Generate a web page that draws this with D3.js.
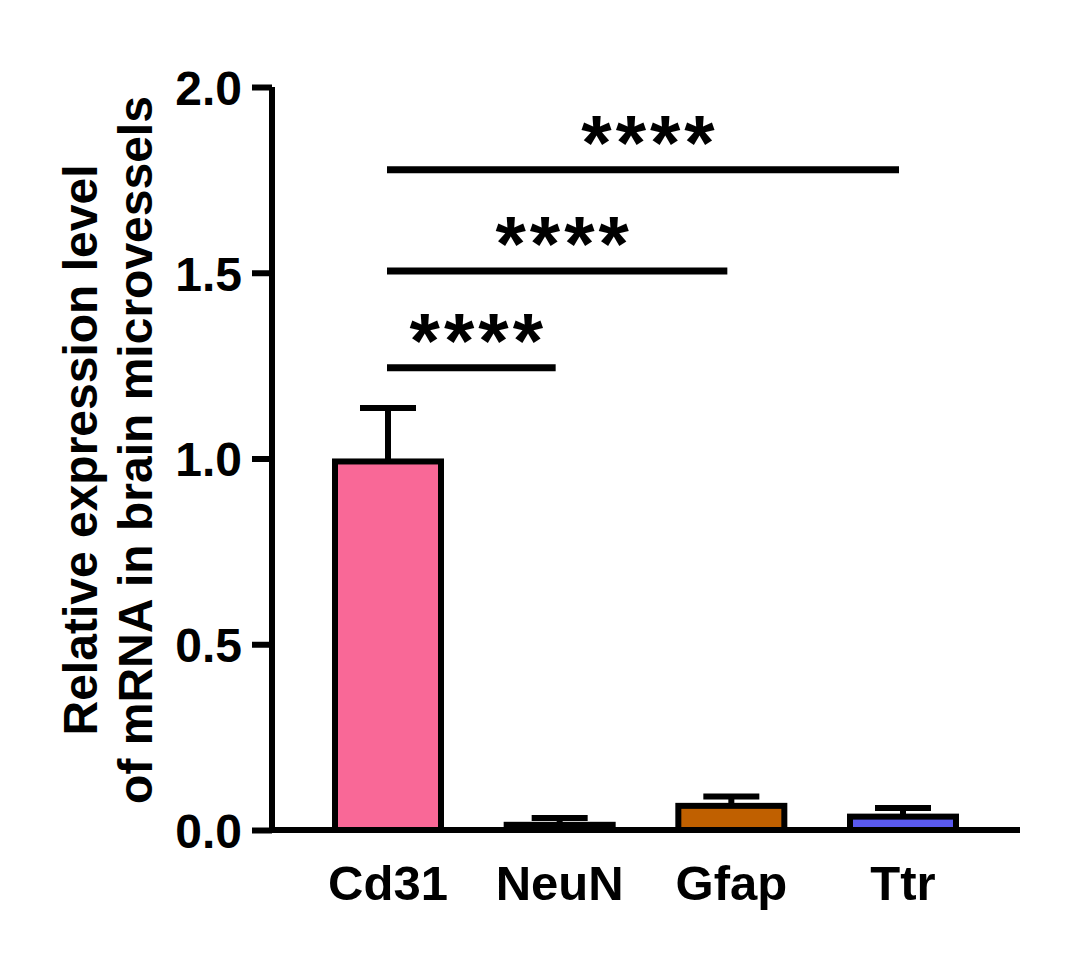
<!DOCTYPE html>
<html>
<head>
    <title>Relative expression level</title>
    <script src="https://d3js.org/d3.v7.min.js"></script>
    <style>
        body {
            margin: 0;
            background: white;
            font-family: "Liberation Sans", Arial, sans-serif;
        }
        text {
            font-weight: bold;
            fill: black;
        }
    </style>
</head>
<body>
    <div id="chart"></div>
    <script>
        // Data
        const categories = ["Cd31", "NeuN", "Gfap", "Ttr"];
        const means = [0.992, 0.014, 0.065, 0.036];
        const errors = [0.144, 0.018, 0.025, 0.023];
        const barColors = ["#F96897", "#3CB371", "#C06000", "#5A5AF0"];
        const yTicks = [0, 0.5, 1.0, 1.5, 2.0];

        // significance brackets: from group index to group index, at height
        const sigFrom = [0, 0, 0];
        const sigTo = [1, 2, 3];
        const sigLevel = [1.244, 1.505, 1.777];
        const sigLabel = ["****", "****", "****"];

        const width = 1069, height = 960;
        const svg = d3.select("#chart")
            .append("svg")
            .attr("width", width)
            .attr("height", height);

        const y = d3.scaleLinear().domain([0, 2]).range([830, 87]);
        const x = d3.scalePoint().domain(categories).range([388, 903]);
        const barW = 106;

        // bars
        svg.append("g")
            .selectAll("rect")
            .data(categories)
            .enter()
            .append("rect")
            .attr("x", d => x(d) - barW / 2)
            .attr("y", (d, i) => y(means[i]))
            .attr("width", barW)
            .attr("height", (d, i) => y(0) - y(means[i]))
            .attr("fill", (d, i) => barColors[i])
            .attr("stroke", "black")
            .attr("stroke-width", 6);

        // error bars (upper only)
        const err = svg.append("g").attr("stroke", "black").attr("stroke-width", 6);
        categories.forEach((c, i) => {
            err.append("line")
                .attr("x1", x(c)).attr("x2", x(c))
                .attr("y1", y(means[i])).attr("y2", y(means[i] + errors[i]));
            err.append("line")
                .attr("x1", x(c) - 28).attr("x2", x(c) + 28)
                .attr("y1", y(means[i] + errors[i])).attr("y2", y(means[i] + errors[i]));
        });

        // y axis
        const yAxis = svg.append("g")
            .attr("transform", "translate(272,0)")
            .call(d3.axisLeft(y).tickValues(yTicks).tickFormat(d3.format(".1f")).tickSize(20).tickSizeOuter(0).tickPadding(10));
        yAxis.select(".domain").attr("stroke-width", 6).attr("d", `M0,${y(2)}V${y(0) + 3}`);
        yAxis.selectAll(".tick line").attr("stroke-width", 6);
        yAxis.selectAll(".tick text")
            .style("font-size", "48px")
            .style("font-family", "'Liberation Sans', Arial, sans-serif")
            .attr("dy", "0.36em");

        // x axis line
        svg.append("line")
            .attr("x1", 269).attr("x2", 1020)
            .attr("y1", y(0)).attr("y2", y(0))
            .attr("stroke", "black")
            .attr("stroke-width", 6);

        // x labels
        svg.append("g")
            .selectAll("text")
            .data(categories)
            .enter()
            .append("text")
            .attr("x", d => x(d))
            .attr("y", 900)
            .attr("text-anchor", "middle")
            .style("font-size", "49px")
            .text(d => d);

        // y title
        const title = svg.append("text")
            .attr("transform", "translate(97,450) rotate(-90)")
            .attr("text-anchor", "middle")
            .style("font-size", "48px");
        title.append("tspan").attr("x", 0).attr("y", 0).text("Relative expression level");
        title.append("tspan").attr("x", 0).attr("y", 55).text("of mRNA in brain microvessels");

        // significance brackets
        const sig = svg.append("g");
        sigLevel.forEach((lv, i) => {
            const x1 = x(categories[sigFrom[i]]) - 1;
            const x2 = x(categories[sigTo[i]]) - 4;
            sig.append("line")
                .attr("x1", x1).attr("x2", x2)
                .attr("y1", y(lv)).attr("y2", y(lv))
                .attr("stroke", "black")
                .attr("stroke-width", 7);
            sig.append("text")
                .attr("x", (x1 + x2) / 2 + 7)
                .attr("y", y(lv))
                .attr("text-anchor", "middle")
                .style("font-size", "78px")
                .style("letter-spacing", "4px")
                .text(sigLabel[i]);
        });
    </script>
</body>
</html>
